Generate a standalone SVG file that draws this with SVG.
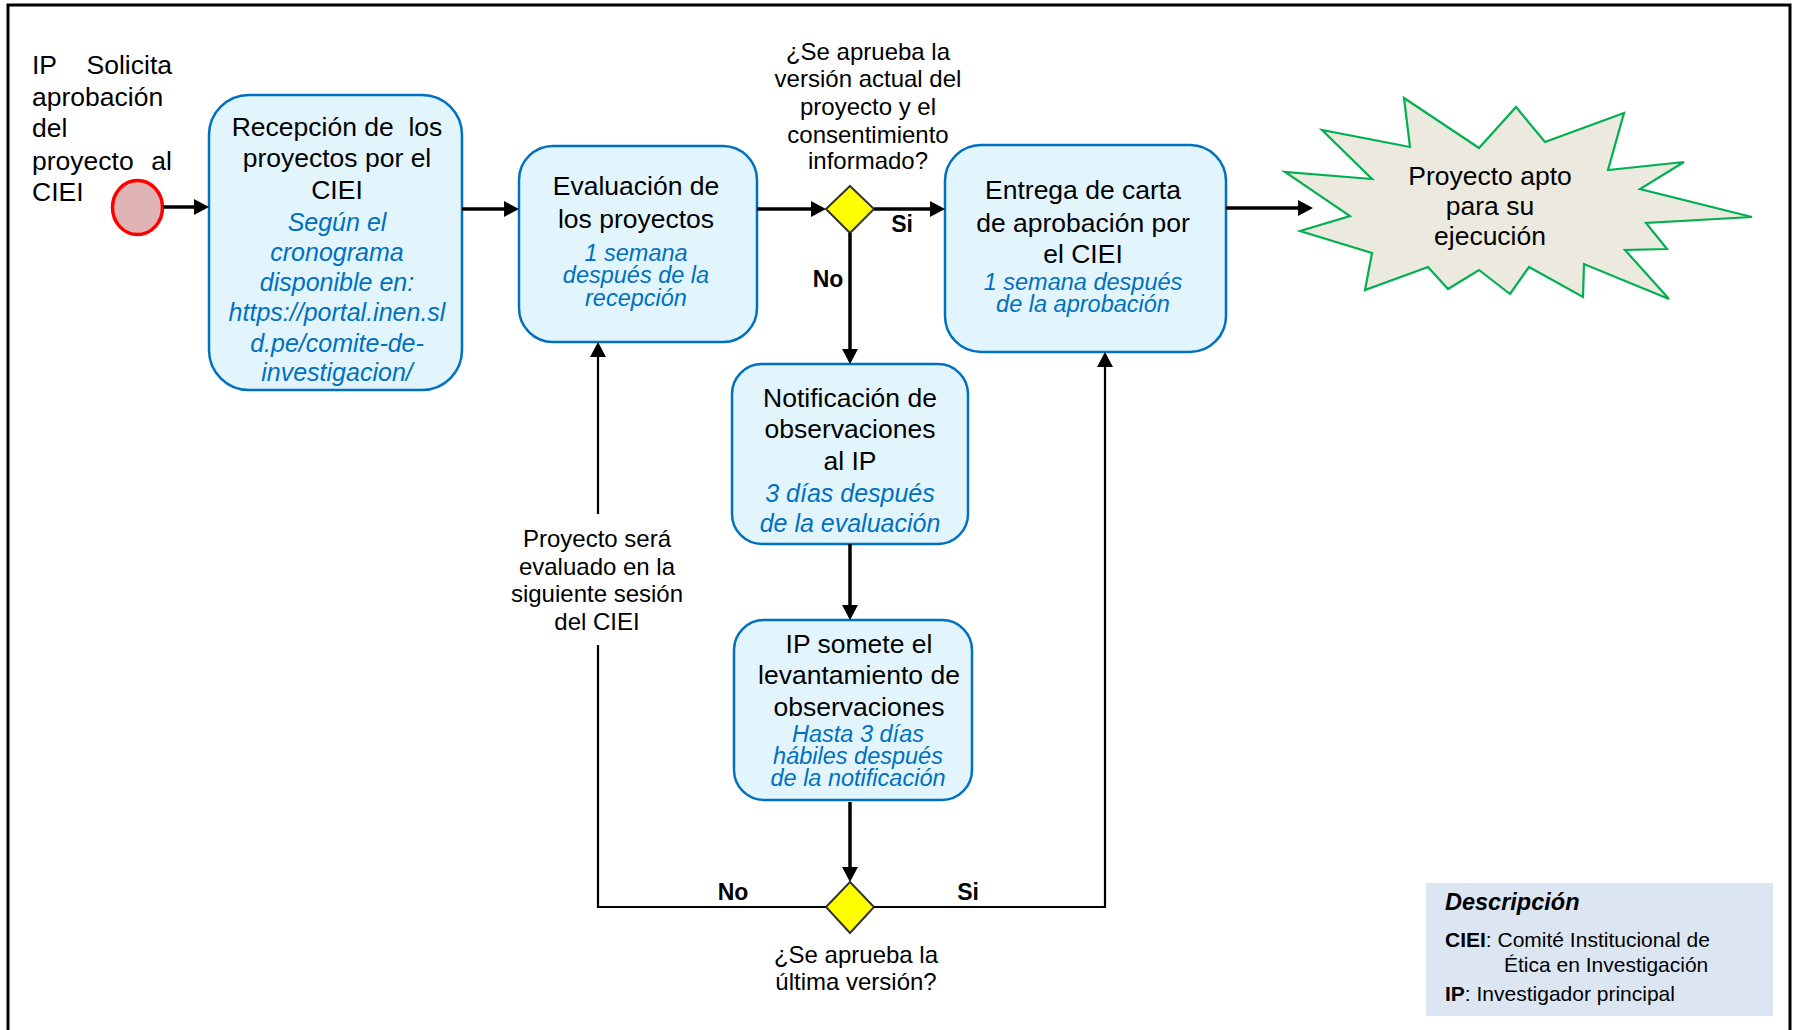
<svg xmlns="http://www.w3.org/2000/svg" width="1795" height="1030" viewBox="0 0 1795 1030">
<defs>
<marker id="ah" markerUnits="userSpaceOnUse" markerWidth="16" markerHeight="16" refX="11" refY="8" orient="auto"><path d="M0,0 L15,8 L0,16 z" fill="#000"/></marker>
</defs>
<style>
text{font-family:"Liberation Sans",Arial,Helvetica,sans-serif}
.t{font-size:26.5px;fill:#000;text-anchor:middle}
.tl{font-size:26.5px;fill:#000}
.b{font-size:25px;font-style:italic;fill:#0070C0;text-anchor:middle}
.bs{font-size:23.5px;font-style:italic;fill:#0070C0;text-anchor:middle}
.q{font-size:24px;fill:#000;text-anchor:middle}
.yn{font-size:23px;font-weight:bold;fill:#000;text-anchor:middle}
.box{fill:#E2F5FD;stroke:#0070C0;stroke-width:2.5}
.thick{stroke:#000;stroke-width:3.5;fill:none}
.thin{stroke:#000;stroke-width:2.2;fill:none}
.dia{fill:#FFFF00;stroke:#333;stroke-width:2}
.lg{font-size:21px;fill:#000}
</style>
<rect x="0" y="0" width="1795" height="1030" fill="#fff"/>
<path d="M8,1040 V5 H1790 V1040" fill="none" stroke="#000" stroke-width="3"/>

<g id="start">
<text class="tl" x="32" y="74">IP</text>
<text class="tl" x="172" y="74" text-anchor="end">Solicita</text>
<text class="tl" x="32" y="106">aprobación</text>
<text class="tl" x="32" y="137">del</text>
<text class="tl" x="32" y="170">proyecto</text>
<text class="tl" x="172" y="170" text-anchor="end">al</text>
<text class="tl" x="32" y="201">CIEI</text>
<ellipse cx="137.5" cy="207.5" rx="25" ry="27" fill="#E0B4B4" stroke="#FF0000" stroke-width="3.5"/>
</g>

<g id="recepcion">
<rect class="box" x="209" y="95" width="253" height="295" rx="40"/>
<text class="t" x="337" y="136">Recepción de&#160; los</text>
<text class="t" x="337" y="167">proyectos por el</text>
<text class="t" x="337" y="199">CIEI</text>
<text class="b" x="337" y="231">Según el</text>
<text class="b" x="337" y="261">cronograma</text>
<text class="b" x="337" y="291">disponible en:</text>
<text class="b" x="337" y="321">https://portal.inen.sl</text>
<text class="b" x="337" y="352">d.pe/comite-de-</text>
<text class="b" x="337" y="381">investigacion/</text>
</g>

<g id="evaluacion">
<rect class="box" x="519" y="146" width="238" height="196" rx="34"/>
<text class="t" x="636" y="195">Evaluación de</text>
<text class="t" x="636" y="228">los proyectos</text>
<text class="bs" x="636" y="261">1 semana</text>
<text class="bs" x="636" y="283">después de la</text>
<text class="bs" x="636" y="306">recepción</text>
</g>

<g id="decision1">
<polygon class="dia" points="850,186 874,209 850,233 826,209"/>
<text class="q" x="868" y="60">¿Se aprueba la</text>
<text class="q" x="868" y="87">versión actual del</text>
<text class="q" x="868" y="115">proyecto y el</text>
<text class="q" x="868" y="143">consentimiento</text>
<text class="q" x="868" y="169">informado?</text>
</g>

<g id="entrega">
<rect class="box" x="945" y="145" width="281" height="207" rx="36"/>
<text class="t" x="1083" y="199">Entrega de carta</text>
<text class="t" x="1083" y="232">de aprobación por</text>
<text class="t" x="1083" y="263">el CIEI</text>
<text class="bs" x="1083" y="290">1 semana después</text>
<text class="bs" x="1083" y="312">de la aprobación</text>
</g>

<g id="apto">
<polygon points="1404,98 1479,148 1516,107 1545,142 1624,113 1608,170 1684,162 1640,189 1752,217 1646,223 1667,249 1625,250 1669,299 1584,264 1583,297 1529,267 1510,294 1479,270 1448,289 1428,267 1365,290 1372,253 1300,231 1350,216 1285,172 1372,179 1322,130 1410,147" fill="#ECEADF" stroke="#00B050" stroke-width="2.2" stroke-linejoin="miter"/>
<text class="t" x="1490" y="185">Proyecto apto</text>
<text class="t" x="1490" y="215">para su</text>
<text class="t" x="1490" y="245">ejecución</text>
</g>

<g id="notificacion">
<rect class="box" x="732" y="364" width="236" height="180" rx="30"/>
<text class="t" x="850" y="407">Notificación de</text>
<text class="t" x="850" y="438">observaciones</text>
<text class="t" x="850" y="470">al IP</text>
<text class="b" x="850" y="502">3 días después</text>
<text class="b" x="850" y="532">de la evaluación</text>
</g>

<g id="levantamiento">
<rect class="box" x="734" y="620" width="238" height="180" rx="30"/>
<text class="t" x="859" y="653">IP somete el</text>
<text class="t" x="859" y="684">levantamiento de</text>
<text class="t" x="859" y="716">observaciones</text>
<text class="bs" x="858" y="742">Hasta 3 días</text>
<text class="bs" x="858" y="764">hábiles después</text>
<text class="bs" x="858" y="786">de la notificación</text>
</g>

<g id="decision2">
<polygon class="dia" points="850,882 874,907 850,933 826,907"/>
<text class="q" x="856" y="963">¿Se aprueba la</text>
<text class="q" x="856" y="990">última versión?</text>
</g>

<g id="connectors">
<path class="thick" d="M163,207 H205" marker-end="url(#ah)"/>
<path class="thick" d="M462,209 H515" marker-end="url(#ah)"/>
<path class="thick" d="M757,209 H822" marker-end="url(#ah)"/>
<path class="thick" d="M874,209 H941" marker-end="url(#ah)"/>
<path class="thick" d="M850,233 V360" marker-end="url(#ah)"/>
<path class="thick" d="M850,544 V616" marker-end="url(#ah)"/>
<path class="thick" d="M850,802 V878" marker-end="url(#ah)"/>
<path class="thick" d="M1226,208 H1309" marker-end="url(#ah)"/>
<path class="thin" d="M826,907 H598 V645"/>
<path class="thin" d="M598,514 V346" marker-end="url(#ah)"/>
<path class="thin" d="M874,907 H1105 V356" marker-end="url(#ah)"/>
<text class="yn" x="902" y="232">Si</text>
<text class="yn" x="828" y="287">No</text>
<text class="yn" x="733" y="900">No</text>
<text class="yn" x="968" y="900">Si</text>
<text class="q" x="597" y="547">Proyecto será</text>
<text class="q" x="597" y="575">evaluado en la</text>
<text class="q" x="597" y="602">siguiente sesión</text>
<text class="q" x="597" y="630">del CIEI</text>
</g>

<g id="legend">
<rect x="1426" y="883" width="347" height="133" fill="#DCE6F2"/>
<text x="1445" y="910" font-size="23.5" font-weight="bold" font-style="italic" fill="#000">Descripción</text>
<text class="lg" x="1445" y="947"><tspan font-weight="bold">CIEI</tspan>: Comité Institucional de</text>
<text class="lg" x="1504" y="972">Ética en Investigación</text>
<text class="lg" x="1445" y="1001"><tspan font-weight="bold">IP</tspan>: Investigador principal</text>
</g>
</svg>
